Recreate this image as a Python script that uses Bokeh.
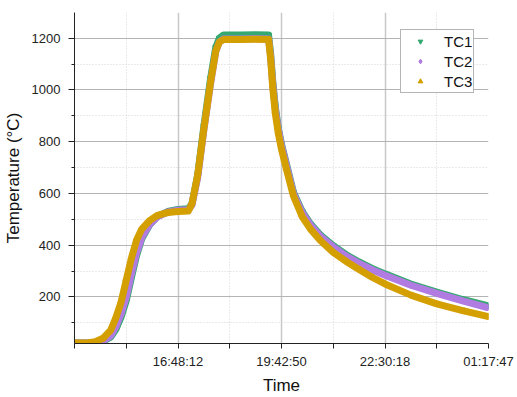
from bokeh.plotting import figure
from bokeh.models import FixedTicker, Range1d, Legend, LegendItem
from bokeh.embed import file_html
from bokeh.resources import INLINE

# x positions in axis units (one unit = one minor tick interval)
x_pos = [0, 0.25, 0.4, 0.55, 0.7, 0.8, 0.9, 1.0, 1.1, 1.2,
         1.3, 1.45, 1.6, 1.8, 2.0, 2.2, 2.27, 2.38, 2.5, 2.63,
         2.73, 2.8, 2.88, 3.2, 3.5, 3.75, 3.79, 3.83, 3.88, 3.94,
         4.0, 4.1, 4.23, 4.4, 4.56, 4.75, 5.0, 5.25, 5.5, 5.75,
         6.0, 6.5, 7.0, 7.5, 7.98]

tc1 = [22, 22, 22, 28, 45, 75, 122, 185, 275, 360,
       425, 478, 510, 530, 538, 541, 560, 670, 860, 1045,
       1165, 1200, 1212, 1212, 1213, 1212, 1140, 1035, 935, 850,
       790, 710, 605, 530, 482, 440, 398, 363, 335, 310,
       289, 250, 219, 190, 166]

tc2 = [22, 22, 22, 30, 50, 85, 135, 200, 290, 370,
       430, 480, 510, 528, 535, 537, 555, 660, 845, 1025,
       1148, 1185, 1197, 1197, 1198, 1197, 1130, 1025, 925, 845,
       785, 705, 600, 525, 478, 435, 393, 358, 330, 305,
       284, 245, 214, 185, 159]

tc3 = [22, 22, 27, 40, 72, 120, 180, 265, 350, 420,
       462, 495, 515, 526, 530, 532, 560, 670, 850, 1030,
       1150, 1185, 1195, 1195, 1196, 1195, 1120, 1010, 910, 830,
       770, 690, 590, 510, 462, 418, 372, 337, 306, 276,
       250, 207, 173, 147, 125]

series_names = ["TC1", "TC2", "TC3"]
series_colors = ["#35a971", "#b17ce2", "#d49f00"]
series_markers = ["inverted_triangle", "diamond", "triangle"]
series_angles = [0, 0, 90]

x_major = [2, 4, 6, 8]
x_minor = [0, 1, 3, 5, 7]
x_labels = ["16:48:12", "19:42:50", "22:30:18", "01:17:47"]
y_major = [200, 400, 600, 800, 1000, 1200]
y_minor = [100, 300, 500, 700, 900, 1100]

FONT = "Liberation Sans"

p = figure(width=517, height=397, output_backend="svg", toolbar_location=None,
           title=None, x_range=Range1d(0, 8), y_range=Range1d(20, 1299),
           min_border_left=73, min_border_right=29, min_border_top=12,
           min_border_bottom=50)
p.outline_line_color = None
p.background_fill_color = "white"
p.border_fill_color = "white"

# axes
p.xaxis.ticker = FixedTicker(ticks=x_major, minor_ticks=x_minor)
p.xaxis.major_label_overrides = {t: l for t, l in zip(x_major, x_labels)}
p.yaxis.ticker = FixedTicker(ticks=y_major, minor_ticks=y_minor)
p.xaxis.axis_label = "Time"
p.yaxis.axis_label = "Temperature (°C)"
for ax in (p.xaxis, p.yaxis):
    ax.axis_label_text_font = FONT
    ax.axis_label_text_font_size = "17px"
    ax.axis_label_text_font_style = "normal"
    ax.axis_label_text_color = "#111111"
    ax.major_label_text_font = FONT
    ax.major_label_text_font_size = "13px"
    ax.major_label_text_color = "#222222"
    ax.axis_line_color = "#222222"
    ax.major_tick_line_color = "#222222"
    ax.minor_tick_line_color = "#222222"
    ax.major_tick_in = 0
    ax.minor_tick_in = 0
p.xaxis.major_tick_out = 5
p.xaxis.minor_tick_out = 5
p.xaxis.major_label_standoff = 5
p.xaxis.axis_label_standoff = 4
p.yaxis.major_tick_out = 6
p.yaxis.minor_tick_out = 3
p.yaxis.major_label_standoff = 8
p.yaxis.axis_label_standoff = 6

# grids
p.xgrid.ticker = p.xaxis.ticker
p.ygrid.ticker = p.yaxis.ticker
p.xgrid.grid_line_color = "#c8c8c8"
p.xgrid.grid_line_width = 1.5
p.xgrid.minor_grid_line_color = "#d4d4d4"
p.xgrid.minor_grid_line_dash = "1 2"
p.ygrid.grid_line_color = "#b4b4b4"
p.ygrid.grid_line_width = 1
p.ygrid.minor_grid_line_color = "#d4d4d4"
p.ygrid.minor_grid_line_dash = "1 2"

items = []
for name, ys, col, mk, ang in zip(series_names, [tc1, tc2, tc3], series_colors,
                                  series_markers, series_angles):
    p.line(x_pos, ys, line_color=col, line_width=7, line_join="round", line_cap="round")
    r = p.scatter(x_pos, ys, marker=mk, size=6, angle=ang, angle_units="deg",
                  fill_color=col, line_color=col)
    items.append(LegendItem(label=name, renderers=[r]))

legend = Legend(items=items, location=(326, 250), padding=1, spacing=0,
                label_height=20, glyph_height=12, glyph_width=36, label_standoff=6,
                label_text_font=FONT, label_text_font_size="15px",
                label_text_color="#111111", border_line_color="#6b6b6b",
                border_line_width=1, background_fill_color="white",
                background_fill_alpha=1.0, margin=0)
p.add_layout(legend, "center")

open("out.html", "w").write(file_html(p, INLINE))
